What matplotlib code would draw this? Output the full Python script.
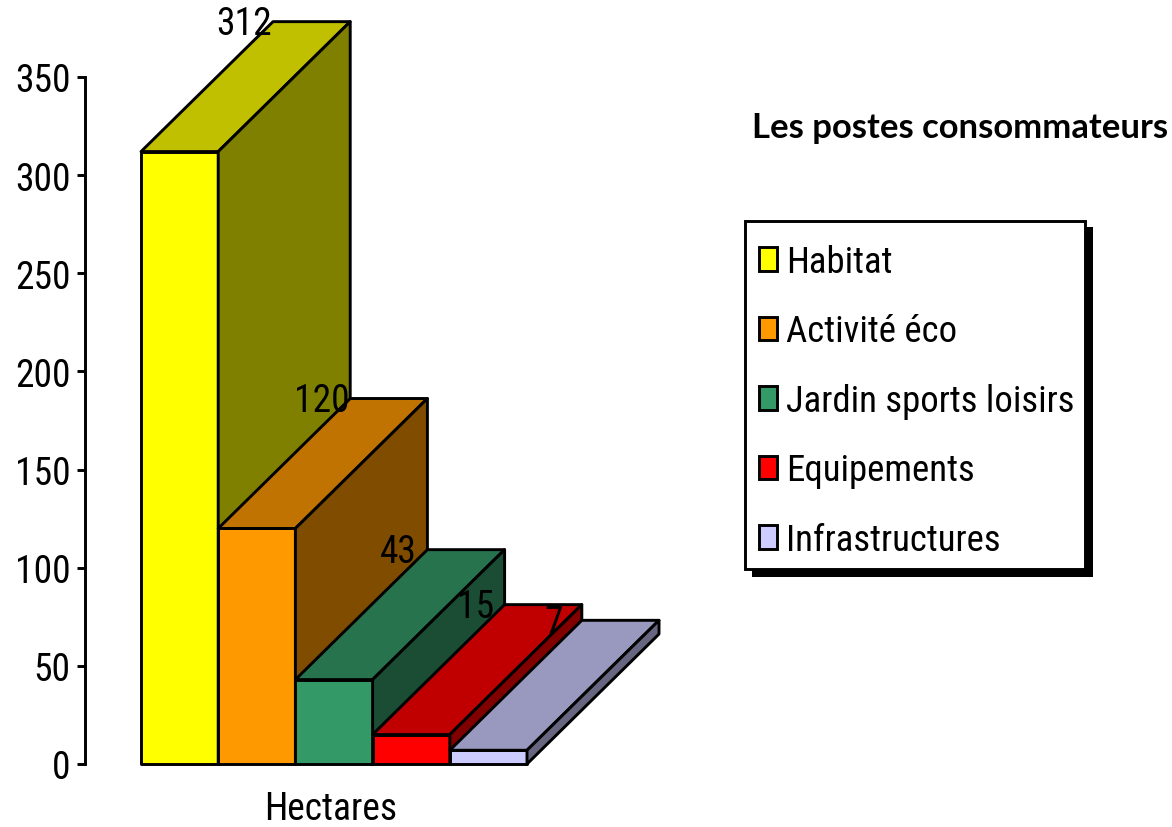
"""
Les postes consommateurs, pseudo 3D columns
"""

import matplotlib

matplotlib.use("Agg")
import matplotlib.pyplot as plt
from matplotlib.patches import Patch, Polygon, Rectangle

categories = ["Habitat", "Activité éco", "Jardin sports loisirs", "Equipements", "Infrastructures"]
hectares = [312, 120, 43, 15, 7]
front_colors = ["#FFFF00", "#FF9900", "#339966", "#FF0000", "#CCCCFF"]
top_colors = ["#C0C000", "#C07300", "#26734D", "#C00000", "#9999C0"]
side_colors = ["#808000", "#804D00", "#1A4D33", "#800000", "#666680"]
y_ticks = [0, 50, 100, 150, 200, 250, 300, 350]

FONT = ["Roboto Condensed", "DejaVu Sans"]
FONT_SIZE = 27
LINE = 2.1
DEPTH_X = 1.71  # in bar widths
DEPTH_Y = 66.2  # in hectares


def draw_column(ax, x, value, front, top, side):
    ax.bar(x, value, width=1, align="edge", color=front, edgecolor="black", linewidth=LINE, zorder=2, clip_on=False, joinstyle="round")
    top_face = [(x, value), (x + 1, value), (x + 1 + DEPTH_X, value + DEPTH_Y), (x + DEPTH_X, value + DEPTH_Y)]
    side_face = [(x + 1, 0), (x + 1 + DEPTH_X, DEPTH_Y), (x + 1 + DEPTH_X, value + DEPTH_Y), (x + 1, value)]
    for face, color in ((top_face, top), (side_face, side)):
        ax.add_patch(
            Polygon(face, closed=True, facecolor=color, edgecolor="black", linewidth=LINE, zorder=2, clip_on=False, joinstyle="round")
        )


def main():
    plt.rcParams["font.family"] = FONT
    fig = plt.figure(figsize=(11.72, 8.28), dpi=100)
    ax = fig.add_axes([85 / 1172, 63 / 828, 700 / 1172, 687 / 828])
    ax.patch.set_alpha(0)
    ax.set_ylim(0, 350)
    ax.set_xlim(-56 / 77.2, 644 / 77.2)

    for i, value in enumerate(hectares):
        draw_column(ax, i, value, front_colors[i], top_colors[i], side_colors[i])

    for i, value in enumerate(hectares):
        ax.text(i + 1.34, value + DEPTH_Y - 1, str(value), fontsize=FONT_SIZE, ha="center", va="center", zorder=5)

    for side in ("top", "right", "bottom"):
        ax.spines[side].set_visible(False)
    ax.spines["left"].set_linewidth(LINE)
    ax.set_yticks(y_ticks)
    ax.tick_params(axis="y", labelsize=FONT_SIZE, length=6, width=LINE, pad=4.5)
    ax.set_xticks([])
    ax.text(2.46, -22.5, "Hectares", fontsize=FONT_SIZE, ha="center", va="center")

    fig.text(752 / 1172, 1 - 127.5 / 828, "Les postes consommateurs", fontsize=24.9, family=["Lato", "DejaVu Sans"], fontweight="bold", ha="left", va="center")

    # legend box drawn apart so the rows can sit where they do in the original
    fig.add_artist(Rectangle((752 / 1172, 1 - 578 / 828), 341 / 1172, 350 / 828, transform=fig.transFigure, facecolor="black", edgecolor="none"))
    fig.add_artist(
        Rectangle((745 / 1172, 1 - 570 / 828), 340 / 1172, 348 / 828, transform=fig.transFigure, facecolor="white", edgecolor="black", linewidth=LINE)
    )

    handles = [Patch(facecolor=c, edgecolor="black", linewidth=LINE) for c in front_colors]
    fig.legend(
        handles,
        categories,
        loc="upper left",
        bbox_to_anchor=(759 / 1172, 1 - 245 / 828),
        borderaxespad=0,
        fontsize=26.5,
        frameon=False,
        handlelength=0.5,
        handleheight=0.62,
        handletextpad=0.23,
        labelspacing=0.91,
        borderpad=0,
    )

    fig.savefig("out.png", dpi=100)


if __name__ == "__main__":
    main()
